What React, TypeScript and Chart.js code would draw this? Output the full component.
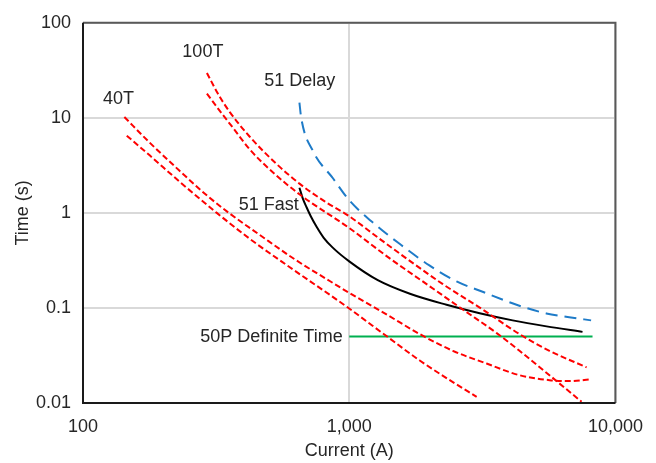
import React, { useEffect, useRef } from "react";
import { Chart, registerables } from "chart.js";

Chart.register(...registerables);

// Axis ticks
const xTickValues = [100, 1000, 10000];
const xTickLabels = ["100", "1,000", "10,000"];
const yTickValues = [0.01, 0.1, 1, 10, 100];
const yTickLabels = ["0.01", "0.1", "1", "10", "100"];

// 40T fuse – upper curve (total clearing)
const t40UpperCurrent = [143, 178, 231, 287, 353, 461, 625, 845, 1000, 1380, 1840, 2450, 3280, 4360, 5650, 6720, 8130];
const t40UpperTime = [10.2, 5.49, 2.76, 1.59, 1.0, 0.587, 0.324, 0.192, 0.144, 0.0855, 0.0531, 0.0354, 0.026, 0.0196, 0.0174, 0.017, 0.0178];

// 40T fuse – lower curve (minimum melt)
const t40LowerCurrent = [146, 178, 231, 318, 423, 598, 845, 1000, 1380, 1840, 2450, 3010];
const t40LowerTime = [6.49, 4.03, 2.12, 1.0, 0.534, 0.268, 0.1375, 0.0986, 0.0506, 0.028, 0.0166, 0.0116];

// 100T fuse – upper curve
const t100UpperCurrent = [292, 321, 356, 423, 525, 652, 809, 1000, 1300, 1660, 2240, 3090, 4360, 5650, 7790];
const t100UpperTime = [29.7, 18, 11.5, 6.33, 3.41, 2.02, 1.32, 0.922, 0.534, 0.324, 0.179, 0.101, 0.0531, 0.0354, 0.0237];

// 100T fuse – lower curve
const t100LowerCurrent = [292, 327, 366, 423, 525, 652, 1000, 1420, 2000, 2670, 3580, 4360, 5650, 7460];
const t100LowerTime = [18, 11.75, 7.85, 4.65, 2.57, 1.56, 0.693, 0.332, 0.17, 0.0963, 0.0544, 0.0354, 0.0196, 0.0103];

// 51 Delay relay curve
const delayCurrent = [650, 660, 730, 870, 1000, 1270, 1550, 2000, 2530, 3170, 4250, 5500, 6700, 8100];
const delayTime = [14.5, 10, 4.5, 2.3, 1.36, 0.73, 0.47, 0.28, 0.19, 0.148, 0.108, 0.0875, 0.08, 0.074];

// 51 Fast relay curve
const fastCurrent = [650, 669, 692, 717, 755, 802, 867, 1000, 1280, 1690, 2320, 3090, 4110, 5510, 7520];
const fastTime = [1.84, 1.42, 1.14, 0.922, 0.71, 0.547, 0.431, 0.309, 0.196, 0.141, 0.108, 0.088, 0.074, 0.064, 0.056];

// 50P definite time
const defCurrent = [1000, 8200];
const defTime = [0.05, 0.05];

// Curve labels (anchored in data space)
const labelTexts = ["40T", "100T", "51 Delay", "51 Fast", "50P Definite Time"];
const labelCurrents = [136, 282, 652, 646, 945];
const labelTimes = [15.6, 49.6, 24.6, 1.2, 0.05];
const labelAligns = ["center", "center", "center", "right", "right"];

const FONT = "'Liberation Sans', Arial, Helvetica, sans-serif";
const TEXT = "#262626";

function pts(xs: number[], ys: number[]) {
  return xs.map((x, i) => ({ x, y: ys[i] }));
}

export default function App() {
  const ref = useRef<HTMLCanvasElement>(null);

  useEffect(() => {
    document.body.style.margin = "0";
    const canvas = ref.current;
    if (!canvas) return;

    const labelsPlugin = {
      id: "curveLabels",
      afterDatasetsDraw(chart: any) {
        const { ctx, scales } = chart;
        ctx.save();
        ctx.font = `18px ${FONT}`;
        ctx.fillStyle = TEXT;
        ctx.textBaseline = "middle";
        labelTexts.forEach((t, i) => {
          ctx.textAlign = labelAligns[i];
          ctx.fillText(
            t,
            scales.x.getPixelForValue(labelCurrents[i]),
            scales.y.getPixelForValue(labelTimes[i])
          );
        });
        ctx.restore();
      },
    };

    const framePlugin = {
      id: "frame",
      afterDatasetsDraw(chart: any) {
        const { ctx, chartArea: a } = chart;
        ctx.save();
        ctx.lineWidth = 2;
        ctx.strokeStyle = "#595959";
        ctx.beginPath();
        ctx.moveTo(a.left, a.top);
        ctx.lineTo(a.right, a.top);
        ctx.lineTo(a.right, a.bottom);
        ctx.stroke();
        ctx.strokeStyle = "#1a1a1a";
        ctx.beginPath();
        ctx.moveTo(a.left, a.top);
        ctx.lineTo(a.left, a.bottom);
        ctx.lineTo(a.right, a.bottom);
        ctx.stroke();
        ctx.restore();
      },
    };

    const red = "#FF0000";
    const redDash = [6, 3];

    const chart = new Chart(canvas, {
      type: "scatter",
      data: {
        datasets: [
          { label: "40T upper", data: pts(t40UpperCurrent, t40UpperTime), borderColor: red, borderDash: redDash, showLine: true },
          { label: "40T lower", data: pts(t40LowerCurrent, t40LowerTime), borderColor: red, borderDash: redDash, showLine: true },
          { label: "100T upper", data: pts(t100UpperCurrent, t100UpperTime), borderColor: red, borderDash: redDash, showLine: true },
          { label: "100T lower", data: pts(t100LowerCurrent, t100LowerTime), borderColor: red, borderDash: redDash, showLine: true },
          { label: "51 Delay", data: pts(delayCurrent, delayTime), borderColor: "#1E7BC8", borderDash: [12, 7], showLine: true },
          { label: "51 Fast", data: pts(fastCurrent, fastTime), borderColor: "#000000", showLine: true },
          { label: "50P Definite Time", data: pts(defCurrent, defTime), borderColor: "#00B050", showLine: true },
        ],
      },
      options: {
        responsive: false,
        animation: false,
        devicePixelRatio: 1,
        layout: { padding: { left: 0, right: 40, top: 16, bottom: 0 } },
        plugins: { legend: { display: false }, tooltip: { enabled: false } },
        elements: {
          point: { radius: 0, hoverRadius: 0 },
          line: { borderWidth: 2, cubicInterpolationMode: "monotone", fill: false },
        },
        scales: {
          x: {
            type: "logarithmic",
            position: "bottom",
            min: 100,
            max: 10000,
            afterBuildTicks: (s: any) => {
              s.ticks = xTickValues.map((v) => ({ value: v }));
            },
            afterFit: (s: any) => {
              s.height = 60;
            },
            ticks: {
              callback: (_v: any, i: number) => xTickLabels[i],
              font: { family: FONT, size: 18 },
              color: TEXT,
              padding: 13,
              maxRotation: 0,
              autoSkip: false,
            },
            grid: { color: "#D9D9D9", lineWidth: 2, drawTicks: false },
            border: { display: false },
            title: {
              display: true,
              text: "Current (A)",
              font: { family: FONT, size: 18 },
              color: TEXT,
              padding: { top: 0, bottom: 1 },
            },
          },
          y: {
            type: "logarithmic",
            position: "left",
            min: 0.01,
            max: 100,
            afterBuildTicks: (s: any) => {
              s.ticks = yTickValues.map((v) => ({ value: v }));
            },
            afterFit: (s: any) => {
              s.width = 83;
            },
            ticks: {
              callback: (_v: any, i: number) => yTickLabels[i],
              font: { family: FONT, size: 18 },
              color: TEXT,
              padding: 12,
              autoSkip: false,
            },
            grid: { color: "#D9D9D9", lineWidth: 2, drawTicks: false },
            border: { display: false },
            title: {
              display: true,
              text: "Time (s)",
              font: { family: FONT, size: 18 },
              color: TEXT,
              padding: { top: 12, bottom: 0 },
            },
          },
        },
      },
      plugins: [framePlugin, labelsPlugin],
    } as any);

    return () => chart.destroy();
  }, []);

  return (
    <div style={{ width: 656, height: 463 }}>
      <canvas ref={ref} width={656} height={463} style={{ display: "block" }} />
    </div>
  );
}
